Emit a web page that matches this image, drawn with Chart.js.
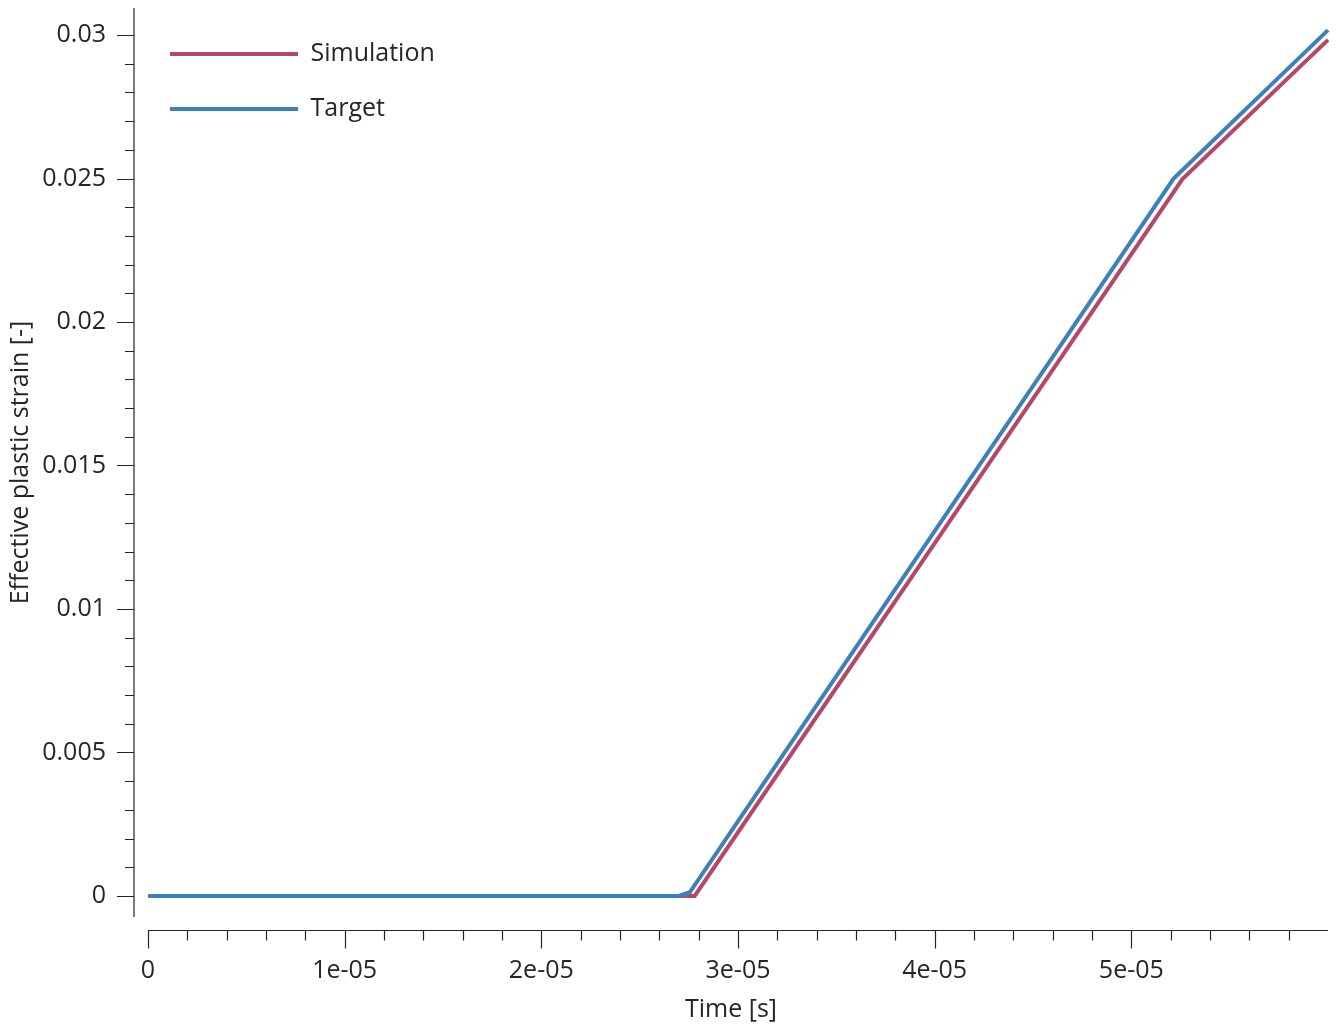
<!DOCTYPE html>
<html>
<head>
<meta charset="utf-8">
<script src="https://cdn.jsdelivr.net/npm/chart.js@4.4.1/dist/chart.umd.min.js"></script>
<style>
  html, body { margin: 0; padding: 0; background: #fff; }
  #wrap { width: 1339px; height: 1024px; }
</style>
</head>
<body>
<div id="wrap"><canvas id="chart" width="1339" height="1024"></canvas></div>
<script>
// --- Data ---
const simTime   = [0, 2.78e-5, 5.26e-5, 6.0e-5];
const simStrain = [0, 0, 0.02498, 0.02983];

const targetTime   = [0, 2.70e-5, 2.755e-5, 5.215e-5, 6.0e-5];
const targetStrain = [0, 0, 0.00013, 0.025, 0.03017];

// --- Axes ---
const xMajorTicks = [0, 1e-5, 2e-5, 3e-5, 4e-5, 5e-5];
const xTickLabels = ['0', '1e-05', '2e-05', '3e-05', '4e-05', '5e-05'];
const xMinorStep = 2e-6;
const xMin = -7.1e-7, xMax = 6.0e-5;

const yMajorTicks = [0, 0.005, 0.01, 0.015, 0.02, 0.025, 0.03];
const yTickLabels = ['0', '0.005', '0.01', '0.015', '0.02', '0.025', '0.03'];
const yMinorStep = 0.001;
const yMin = -0.000732, yMax = 0.030941;

const FONT = '"Open Sans", "Noto Sans", sans-serif';
const TEXT = '#262626';

function buildTicks(step, lo, hi, majors) {
  const out = [];
  for (let i = 0; i * step <= hi + step * 1e-6; i++) {
    const v = i * step;
    if (v < lo || v > hi - step * 1e-3) continue;
    const major = majors.some(m => Math.abs(m - v) < step * 1e-3);
    out.push({ value: v, major });
  }
  return out;
}

function labelFor(value, majors, labels) {
  const i = majors.findIndex(m => Math.abs(m - value) < 1e-12);
  return i >= 0 ? labels[i] : '';
}

// axis lines and tick marks, detached like the reference
const axisPlugin = {
  id: 'detachedAxes',
  beforeDraw(chart) {
    // nudge legend into the reference spot inside the plot area
    const lg = chart.legend;
    lg.left = chart.chartArea.left + 6;
    lg.top = chart.chartArea.top + 3.5;
  },
  afterDraw(chart) {
    const { ctx, chartArea, scales: { x, y } } = chart;
    ctx.save();
    ctx.strokeStyle = TEXT;
    ctx.lineWidth = 1.2;
    ctx.beginPath();
    const ax = chartArea.left;
    ctx.moveTo(ax, chartArea.top);
    ctx.lineTo(ax, chartArea.bottom);
    y.ticks.forEach(t => {
      const py = Math.round(y.getPixelForValue(t.value)) + 0.5;
      ctx.moveTo(ax - (t.major ? 17 : 9), py);
      ctx.lineTo(ax, py);
    });
    const ay = chartArea.bottom + 13.5;
    ctx.moveTo(x.getPixelForValue(0), ay);
    ctx.lineTo(chartArea.right, ay);
    x.ticks.forEach(t => {
      const px = Math.round(x.getPixelForValue(t.value)) + 0.5;
      ctx.moveTo(px, ay);
      ctx.lineTo(px, ay + (t.major ? 18 : 10));
    });
    ctx.stroke();
    ctx.restore();
  }
};

const toPts = (xs, ys) => xs.map((v, i) => ({ x: v, y: ys[i] }));

new Chart(document.getElementById('chart'), {
  type: 'line',
  data: {
    datasets: [
      {
        label: 'Target',
        data: toPts(targetTime, targetStrain),
        borderColor: '#3c81bc',
        backgroundColor: '#3c81bc',
        borderWidth: 4,
        pointRadius: 0,
        tension: 0,
        clip: false
      },
      {
        label: 'Simulation',
        data: toPts(simTime, simStrain),
        borderColor: '#b5486a',
        backgroundColor: '#b5486a',
        borderWidth: 4,
        pointRadius: 0,
        tension: 0,
        clip: false
      }
    ]
  },
  options: {
    responsive: false,
    animation: false,
    layout: { padding: { top: 8, right: 11, left: 0, bottom: 0 } },
    scales: {
      x: {
        type: 'linear',
        min: xMin,
        max: xMax,
        afterBuildTicks: s => { s.ticks = buildTicks(xMinorStep, 0, xMax, xMajorTicks); },
        afterFit: s => { s.height = 107; s.paddingLeft = 0; s.paddingRight = 0; },
        grid: { display: false, drawTicks: false },
        border: { display: false },
        ticks: {
          autoSkip: false,
          maxRotation: 0,
          padding: 39,
          color: TEXT,
          font: { family: FONT, size: 25 },
          callback: v => labelFor(v, xMajorTicks, xTickLabels)
        },
        title: {
          display: true,
          text: 'Time [s]',
          color: TEXT,
          font: { family: FONT, size: 25 },
          padding: { top: 0, bottom: -1 }
        }
      },
      y: {
        type: 'linear',
        min: yMin,
        max: yMax,
        afterBuildTicks: s => { s.ticks = buildTicks(yMinorStep, 0, yMax, yMajorTicks); },
        afterFit: s => { s.width = 134; s.paddingTop = 0; s.paddingBottom = 0; },
        grid: { display: false, drawTicks: false },
        border: { display: false },
        ticks: {
          autoSkip: false,
          padding: 28,
          color: TEXT,
          font: { family: FONT, size: 25 },
          callback: v => labelFor(v, yMajorTicks, yTickLabels)
        },
        title: {
          display: true,
          text: 'Effective plastic strain [-]',
          color: TEXT,
          font: { family: FONT, size: 25 },
          padding: { top: 6, bottom: 0 }
        }
      }
    },
    plugins: {
      tooltip: { enabled: false },
      legend: {
        position: 'chartArea',
        fullSize: false,
        align: 'start',
        reverse: true,
        labels: {
          usePointStyle: true,
          pointStyle: 'line',
          pointStyleWidth: 128,
          padding: 30,
          color: TEXT,
          font: { family: FONT, size: 25 }
        }
      }
    }
  },
  plugins: [axisPlugin]
});
</script>
</body>
</html>
